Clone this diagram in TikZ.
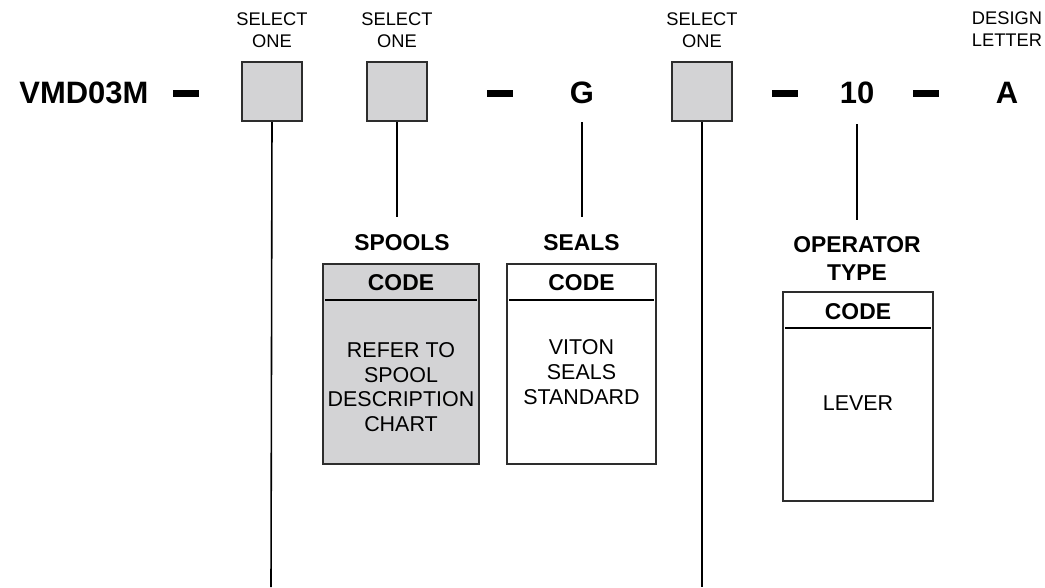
\documentclass[tikz,border=0pt]{standalone}
\usepackage{fontspec}
\setmainfont{Liberation Sans}
\definecolor{boxgray}{RGB}{211,211,213}
\definecolor{edgegray}{RGB}{45,45,45}

\begin{document}
\begin{tikzpicture}[x=0.01cm,y=-0.01cm,
    part/.style={font=\fontsize{8.8}{10}\selectfont\bfseries},
    hint/.style={font=\fontsize{5.2}{6.1}\selectfont,align=center},
    title/.style={font=\fontsize{6.5}{7.7}\selectfont\bfseries,align=center},
    body/.style={font=\fontsize{6.1}{7}\selectfont,align=center},
    selbox/.style={draw=edgegray,line width=0.6pt,fill=boxgray,
      minimum width=0.6cm,minimum height=0.59cm,inner sep=0pt},
    codebox/.style={draw=edgegray,line width=0.6pt,minimum height=2cm,inner sep=0pt},
    dashbar/.style={fill=black,minimum width=0.26cm,minimum height=0.07cm,inner sep=0pt},
    lead/.style={line width=0.45pt},
    rule/.style={line width=0.5pt}]
  \useasboundingbox (0,0) rectangle (1045,587);

  % model code row
  \node [part,anchor=west] (model) at (7,93) {VMD03M};
  \node [dashbar] (d1) at (186,93) {};
  \node [selbox] (sel1) at (272,91.5) {};
  \node [selbox] (sel2) at (397,91.5) {};
  \node [dashbar] (d2) at (500,93) {};
  \node [part] (seal) at (582,93) {G};
  \node [selbox] (sel3) at (702,91.5) {};
  \node [dashbar] (d3) at (785,93) {};
  \node [part] (oper) at (857,93) {10};
  \node [dashbar] (d4) at (926,93) {};
  \node [part] (design) at (1007,93) {A};

  % small notes above the row
  \node [hint] at (272,30) {SELECT\\ONE};
  \node [hint] at (397,30) {SELECT\\ONE};
  \node [hint] at (702,30) {SELECT\\ONE};
  \node [hint] at (1007,29) {DESIGN\\LETTER};

  % code tables
  \node [title] (spools) at (402,243) {SPOOLS};
  \node [codebox,fill=boxgray,minimum width=1.56cm] (spoolbox) at (401,364) {};
  \node [title] at (401,283) {CODE};
  \node [body] at (401,387) {REFER TO\\SPOOL\\DESCRIPTION\\CHART};

  \node [title] (seals) at (581.5,243) {SEALS};
  \node [codebox,minimum width=1.49cm] (sealbox) at (581.5,364) {};
  \node [title] at (581.5,283) {CODE};
  \node [body] at (581.5,372) {VITON\\SEALS\\STANDARD};

  \node [title] (opers) at (857,258.5) {OPERATOR\\TYPE};
  \node [codebox,minimum width=1.5cm,minimum height=2.09cm] (operbox) at (858,396.5) {};
  \node [title] at (858,312) {CODE};
  \node [body] at (858,403) {LEVER};

  \foreach \b in {spoolbox,sealbox,operbox}
    \draw [rule] ([shift={(0.035cm,-0.37cm)}]\b.north west)
      -- ([shift={(-0.035cm,-0.37cm)}]\b.north east);

  % leaders
  \coordinate (end1) at (271,587);
  \coordinate (end3) at (702,587);
  \draw [lead] (sel1.south) -- (end1);
  \draw [lead] (sel3.south) -- (end3);
  \draw [lead,shorten >=0.05cm] (sel2.south) -- (sel2.south |- spools.north);
  \draw [lead,shorten <=0.06cm,shorten >=0.05cm] (seal.south) -- (seal.south |- seals.north);
  \draw [lead,shorten <=0.08cm,shorten >=0.05cm] (oper.south) -- (oper.south |- opers.north);
\end{tikzpicture}
\end{document}
